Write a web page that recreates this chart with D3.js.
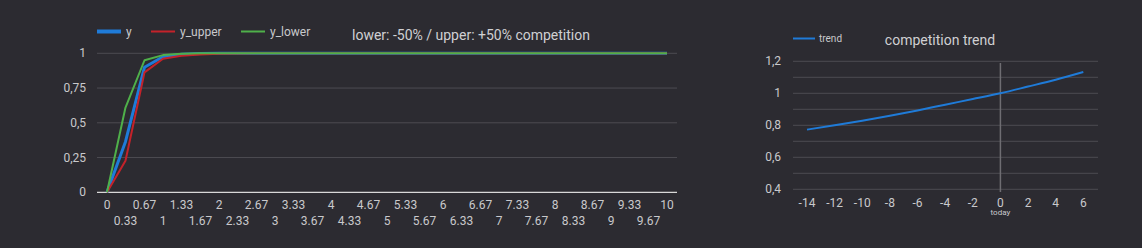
<!DOCTYPE html>
<html lang="en">
<head>
<meta charset="UTF-8">
<title>competition</title>
<style>
  body { margin:0; background:#2c2b31; }
  svg { display:block; font-family: Roboto, "Noto Sans", sans-serif; }
</style>
</head>
<body>
<div id="chart"></div>
<script src="https://d3js.org/d3.v7.min.js"></script>
<script>
// ---- data ----
const xLabels = ["0","0.33","0.67","1","1.33","1.67","2","2.33","2.67","3","3.33","3.67","4","4.33","4.67",
  "5","5.33","5.67","6","6.33","6.67","7","7.33","7.67","8","8.33","8.67","9","9.33","9.67","10"];
const xValues = xLabels.map(Number);
const yMain  = [0, 0.364, 0.90, 0.975, 0.993, 0.998, 1, 1, 1, 1, 1, 1, 1, 1, 1, 1, 1, 1, 1, 1, 1, 1, 1, 1, 1, 1, 1, 1, 1, 1, 1];
const yUpper = [0, 0.227, 0.863, 0.961, 0.982, 0.992, 0.997, 0.999, 1, 1, 1, 1, 1, 1, 1, 1, 1, 1, 1, 1, 1, 1, 1, 1, 1, 1, 1, 1, 1, 1, 1];
const yLower = [0, 0.61, 0.95, 0.987, 0.997, 1, 1, 1, 1, 1, 1, 1, 1, 1, 1, 1, 1, 1, 1, 1, 1, 1, 1, 1, 1, 1, 1, 1, 1, 1, 1];
const leftYTicks = [0, 0.25, 0.5, 0.75, 1];

const trendX = [-14, -12, -10, -8, -6, -4, -2, 0, 2, 4, 6];
const trendY = [0.773, 0.80, 0.829, 0.86, 0.893, 0.929, 0.964, 1.0, 1.042, 1.085, 1.133];
const rightYTicks = [0.4, 0.6, 0.8, 1, 1.2];
const rightYGrid = [0.4, 0.5, 0.6, 0.7, 0.8, 0.9, 1, 1.1, 1.2];
const rightXTicks = [-14, -12, -10, -8, -6, -4, -2, 0, 2, 4, 6];

const fmt = v => String(v).replace(".", ",");

const svg = d3.select("#chart").append("svg")
  .attr("width", 1142).attr("height", 248);

const textCol = "#c9c9cc";
const gridCol = "#4d4c52";

// ---- left chart ----
const x1 = d3.scaleLinear().domain([0, 10]).range([107, 667]);
const y1 = d3.scaleLinear().domain([0, 1]).range([192.3, 53.3]);

svg.append("g").selectAll("line").data(leftYTicks.filter(d => d > 0)).join("line")
  .attr("x1", 97).attr("x2", 677)
  .attr("y1", d => y1(d)).attr("y2", d => y1(d))
  .attr("stroke", gridCol).attr("stroke-width", 1);
svg.append("line").attr("x1", 97).attr("x2", 677)
  .attr("y1", y1(0)).attr("y2", y1(0))
  .attr("stroke", "#d8d8d8").attr("stroke-width", 1.2);

svg.append("g").selectAll("text").data(leftYTicks).join("text")
  .attr("x", 86).attr("y", d => y1(d) + 4)
  .attr("text-anchor", "end").attr("font-size", 12).attr("fill", textCol)
  .text(fmt);

svg.append("g").selectAll("text").data(xLabels).join("text")
  .attr("x", d => x1(+d))
  .attr("y", (d, i) => i % 2 === 0 ? 209 : 225)
  .attr("text-anchor", "middle").attr("font-size", 12).attr("fill", textCol)
  .text(d => d);

// drawn in this order so green ends on top
const series = [
  { name: "y", vals: yMain, color: "#1f7bd8", w: 3 },
  { name: "y_upper", vals: yUpper, color: "#c4222a", w: 2 },
  { name: "y_lower", vals: yLower, color: "#4fb04a", w: 2 }
];
const line1 = d3.line().x(d => x1(d[0])).y(d => y1(d[1]));
series.forEach(s => {
  svg.append("path")
    .datum(xValues.map((xv, i) => [xv, s.vals[i]]))
    .attr("d", line1).attr("fill", "none")
    .attr("stroke", s.color).attr("stroke-width", s.w)
    .attr("stroke-linejoin", "round");
});

// legend
const legend1 = [
  { name: "y", color: "#1f7bd8", w: 4, x: 97 },
  { name: "y_upper", color: "#c4222a", w: 2, x: 151 },
  { name: "y_lower", color: "#4fb04a", w: 2, x: 241 }
];
legend1.forEach(l => {
  svg.append("line").attr("x1", l.x).attr("x2", l.x + 24).attr("y1", 31.5).attr("y2", 31.5)
    .attr("stroke", l.color).attr("stroke-width", l.w);
  svg.append("text").attr("x", l.x + 29).attr("y", 35.5)
    .attr("font-size", 12).attr("fill", textCol).text(l.name);
});
svg.append("text").attr("x", 352).attr("y", 40)
  .attr("font-size", 14).attr("fill", "#d0d0d3")
  .text("lower: -50% / upper: +50% competition");

// ---- right chart ----
const x2 = d3.scaleLinear().domain([-14, 6]).range([807, 1083.3]);
const y2 = d3.scaleLinear().domain([0.4, 1.2]).range([189.3, 61.3]);

svg.append("g").selectAll("line").data(rightYGrid).join("line")
  .attr("x1", 793).attr("x2", 1098)
  .attr("y1", d => y2(d)).attr("y2", d => y2(d))
  .attr("stroke", gridCol).attr("stroke-width", 1);

svg.append("line").attr("x1", x2(0)).attr("x2", x2(0))
  .attr("y1", 63).attr("y2", 192)
  .attr("stroke", "#6e6d72").attr("stroke-width", 1.5);

svg.append("g").selectAll("text").data(rightYTicks).join("text")
  .attr("x", 781).attr("y", d => y2(d) + 4)
  .attr("text-anchor", "end").attr("font-size", 12).attr("fill", textCol)
  .text(fmt);

svg.append("g").selectAll("text").data(rightXTicks).join("text")
  .attr("x", d => x2(d)).attr("y", 207)
  .attr("text-anchor", "middle").attr("font-size", 12).attr("fill", textCol)
  .text(d => d);
svg.append("text").attr("x", x2(0)).attr("y", 215)
  .attr("text-anchor", "middle").attr("font-size", 8).attr("fill", textCol)
  .text("today");

svg.append("path")
  .datum(trendX.map((xv, i) => [xv, trendY[i]]))
  .attr("d", d3.line().x(d => x2(d[0])).y(d => y2(d[1])).curve(d3.curveMonotoneX))
  .attr("fill", "none").attr("stroke", "#1f7bd8").attr("stroke-width", 2);

svg.append("line").attr("x1", 793).attr("x2", 815).attr("y1", 38.5).attr("y2", 38.5)
  .attr("stroke", "#1f7bd8").attr("stroke-width", 2);
svg.append("text").attr("x", 819).attr("y", 42)
  .attr("font-size", 10).attr("fill", textCol).text("trend");
svg.append("text").attr("x", 940).attr("y", 45)
  .attr("text-anchor", "middle").attr("font-size", 14).attr("fill", "#d0d0d3")
  .text("competition trend");
</script>
</body>
</html>
